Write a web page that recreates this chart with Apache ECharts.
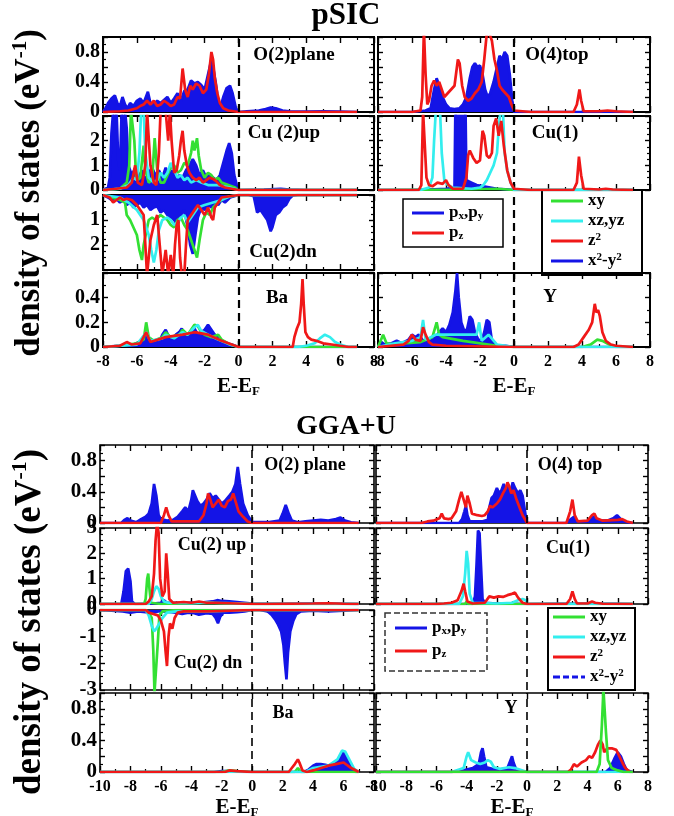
<!DOCTYPE html>
<html><head><meta charset="utf-8">
<script src="https://cdn.jsdelivr.net/npm/echarts@6/dist/echarts.min.js"></script>
<style>html,body{margin:0;padding:0;background:#fff}#c{width:674px;height:816px}</style>
</head><body><div id="c"></div>
<script>
// ---------------- tick labels ----------------
const sicXTicks = [-8,-6,-4,-2,0,2,4,6,8];
const ggaXTicks = [-10,-8,-6,-4,-2,0,2,4,6,8];
const sicO2Ticks = [0,0.4,0.8];
const sicCuUpTicks = [0,1,2];
const sicCuDnTicks = [1,2];
const sicBaTicks = [0,0.2,0.4];
const ggaO2Ticks = [0,0.4,0.8];
const ggaCuUpTicks = [0,1,2,3];
const ggaCuDnTicks = [0,-1,-2,-3];
const ggaBaTicks = [0,0.4,0.8];

// ---------------- pSIC data [E-EF, DOS] ----------------
const sic_O2_pxpy = [[-8,0],[-7.85,0.05],[-7.7,0.12],[-7.5,0.18],[-7.3,0.22],[-7.15,0.12],[-7.0,0.08],[-6.85,0.2],[-6.7,0.1],[-6.55,0.05],[-6.4,0.12],[-6.2,0.08],[-6.0,0.15],[-5.8,0.18],[-5.6,0.12],[-5.35,0.27],[-5.2,0.12],[-5.0,0.1],[-4.8,0.15],[-4.6,0.12],[-4.4,0.16],[-4.2,0.2],[-4.0,0.12],[-3.8,0.18],[-3.6,0.25],[-3.4,0.15],[-3.2,0.28],[-3.0,0.3],[-2.8,0.42],[-2.6,0.38],[-2.4,0.4],[-2.2,0.36],[-2.0,0.3],[-1.85,0.45],[-1.7,0.6],[-1.6,0.7],[-1.5,0.6],[-1.35,0.4],[-1.2,0.15],[-1.05,0.08],[-0.9,0.2],[-0.7,0.32],[-0.5,0.35],[-0.35,0.25],[-0.15,0.05],[0,0],[0.5,0.01],[1.2,0.02],[1.6,0.04],[1.9,0.06],[2.2,0.05],[2.6,0.02],[3.0,0.01],[4,0.005],[5,0.01],[6,0.005],[7,0]];
const sic_O2_pz = [[-8,0],[-7,0.01],[-6.5,0.02],[-6.0,0.05],[-5.8,0.08],[-5.6,0.1],[-5.4,0.15],[-5.2,0.1],[-5.0,0.15],[-4.8,0.08],[-4.6,0.1],[-4.4,0.15],[-4.2,0.12],[-4.0,0.08],[-3.8,0.1],[-3.6,0.2],[-3.45,0.18],[-3.3,0.58],[-3.15,0.3],[-3.0,0.2],[-2.85,0.35],[-2.7,0.3],[-2.5,0.38],[-2.3,0.35],[-2.1,0.25],[-1.9,0.3],[-1.75,0.5],[-1.6,0.8],[-1.5,0.7],[-1.4,0.45],[-1.25,0.25],[-1.1,0.12],[-0.9,0.05],[-0.6,0.02],[0,0],[7,0]];

const sic_Cu2up_x2y2 = [[-8,0],[-7.7,0.1],[-7.6,0.5],[-7.5,2.3],[-7.4,3.2],[-7.2,3.2],[-7.1,1.2],[-7.0,0.8],[-6.9,3.2],[-6.7,3.2],[-6.6,2.5],[-6.5,1.0],[-6.3,0.6],[-6.1,0.9],[-5.9,0.5],[-5.7,0.8],[-5.5,0.4],[-5.3,0.7],[-5.1,0.9],[-4.9,0.6],[-4.7,0.8],[-4.5,0.5],[-4.3,0.9],[-4.1,0.6],[-3.9,0.8],[-3.7,0.4],[-3.5,0.6],[-3.3,0.5],[-3.1,0.8],[-2.9,1.0],[-2.7,1.25],[-2.5,1.0],[-2.3,0.6],[-2.1,0.8],[-1.9,0.5],[-1.7,0.6],[-1.5,0.5],[-1.3,0.4],[-1.1,0.6],[-0.9,1.1],[-0.7,1.6],[-0.55,1.9],[-0.4,1.5],[-0.25,0.6],[-0.1,0.2],[0,0],[1.5,0.02],[2.5,0.05],[3,0.02],[4,0],[7,0]];
const sic_Cu2up_xy = [[-8,0],[-7,0.05],[-6.6,0.3],[-6.45,1.0],[-6.35,3.2],[-6.25,3.2],[-6.15,2.0],[-6.05,0.6],[-5.95,0.4],[-5.8,0.5],[-5.6,1.8],[-5.5,0.8],[-5.3,0.3],[-5.1,0.4],[-4.95,2.1],[-4.8,0.8],[-4.6,0.3],[-4.4,0.3],[-4.2,0.6],[-4.0,0.9],[-3.8,1.0],[-3.6,0.7],[-3.4,0.8],[-3.2,1.1],[-3.0,1.0],[-2.8,1.5],[-2.7,2.0],[-2.6,1.6],[-2.45,2.1],[-2.35,1.4],[-2.2,0.8],[-2.0,0.5],[-1.8,0.7],[-1.6,0.6],[-1.4,0.4],[-1.2,0.5],[-1.0,0.3],[-0.6,0.2],[-0.2,0.1],[0,0],[7,0]];
const sic_Cu2up_xzyz = [[-8,0],[-7,0.05],[-6.5,0.2],[-6.2,0.5],[-6.0,0.4],[-5.85,1.5],[-5.75,3.2],[-5.6,3.2],[-5.5,1.5],[-5.3,0.5],[-5.0,0.3],[-4.8,0.4],[-4.6,0.7],[-4.4,0.5],[-4.2,0.7],[-4.0,1.1],[-3.8,0.8],[-3.6,0.5],[-3.4,0.6],[-3.2,0.4],[-3.0,0.5],[-2.8,0.3],[-2.5,0.4],[-2.2,0.3],[-1.8,0.2],[-1.2,0.2],[-0.5,0.1],[0,0],[7,0]];
const sic_Cu2up_z2 = [[-8,0],[-7.2,0.05],[-6.6,0.1],[-6.3,0.3],[-6.1,1.0],[-5.95,0.3],[-5.7,0.2],[-5.5,1.0],[-5.4,3.2],[-5.3,3.2],[-5.2,1.0],[-5.0,0.3],[-4.85,0.2],[-4.7,1.5],[-4.6,3.2],[-4.3,3.2],[-4.15,2.0],[-4.05,3.2],[-3.95,2.0],[-3.8,0.7],[-3.65,0.8],[-3.5,1.4],[-3.4,2.0],[-3.3,2.4],[-3.2,1.6],[-3.05,1.0],[-2.9,0.7],[-2.7,0.5],[-2.5,0.4],[-2.3,0.5],[-2.1,0.3],[-1.9,0.4],[-1.7,0.5],[-1.5,0.45],[-1.3,0.35],[-1.1,0.2],[-0.8,0.1],[0,0],[7,0]];

const sic_Cu2dn_x2y2 = [[-8,0],[-7.7,0.1],[-7.5,0.2],[-7.2,0.15],[-7.0,0.3],[-6.8,0.2],[-6.6,0.4],[-6.4,0.3],[-6.2,0.5],[-6.0,0.4],[-5.8,0.3],[-5.6,0.5],[-5.4,0.4],[-5.2,0.6],[-5.0,0.5],[-4.8,0.45],[-4.6,0.7],[-4.4,0.6],[-4.2,0.8],[-4.0,0.9],[-3.8,1.0],[-3.6,1.2],[-3.4,0.8],[-3.2,0.6],[-3.0,1.3],[-2.85,2.0],[-2.7,2.35],[-2.55,1.6],[-2.4,0.9],[-2.2,0.5],[-2.0,0.6],[-1.8,0.4],[-1.6,0.5],[-1.4,0.3],[-1.2,0.4],[-1.0,0.2],[-0.8,0.3],[-0.5,0.1],[0,0],[0.6,0],[0.9,0.05],[1.1,0.7],[1.3,0.6],[1.5,0.8],[1.7,1.0],[1.9,1.45],[2.0,1.3],[2.2,0.8],[2.4,0.7],[2.6,0.5],[2.8,0.4],[3.0,0.15],[3.2,0.02],[3.5,0],[7,0]];
const sic_Cu2dn_xy = [[-8,0],[-7.5,0.1],[-7.0,0.2],[-6.7,0.3],[-6.6,0.8],[-6.4,1.0],[-6.2,1.3],[-6.0,1.6],[-5.85,2.2],[-5.7,2.6],[-5.6,2.0],[-5.45,1.5],[-5.3,1.0],[-5.1,0.9],[-4.9,1.0],[-4.6,0.8],[-4.4,0.9],[-4.2,1.0],[-4.0,1.2],[-3.8,1.3],[-3.6,1.0],[-3.4,0.9],[-3.2,1.2],[-3.0,1.4],[-2.8,1.8],[-2.6,2.2],[-2.45,2.5],[-2.3,1.8],[-2.1,1.0],[-1.9,0.7],[-1.7,0.8],[-1.5,0.5],[-1.2,0.3],[-0.8,0.1],[0,0],[7,0]];
const sic_Cu2dn_xzyz = [[-8,0],[-7,0.1],[-6.5,0.3],[-6.0,0.6],[-5.6,1.0],[-5.3,1.6],[-5.15,2.2],[-5.0,2.7],[-4.85,2.2],[-4.7,1.4],[-4.5,1.0],[-4.2,0.9],[-4.0,1.0],[-3.8,1.2],[-3.6,1.1],[-3.4,0.9],[-3.2,0.8],[-3.0,1.1],[-2.8,0.9],[-2.6,0.7],[-2.4,0.5],[-2.0,0.4],[-1.5,0.3],[-1.0,0.2],[-0.5,0.05],[0,0],[7,0]];
const sic_Cu2dn_z2 = [[-8,0],[-7.6,0.1],[-7.4,0.3],[-7.2,0.2],[-7.0,0.1],[-6.8,0.2],[-6.6,0.15],[-6.3,0.2],[-6.0,0.4],[-5.8,0.6],[-5.6,0.8],[-5.5,2.0],[-5.4,3.2],[-5.3,3.2],[-5.2,1.8],[-5.0,1.2],[-4.8,0.8],[-4.65,2.0],[-4.5,3.2],[-4.3,2.2],[-4.15,3.2],[-4.0,2.4],[-3.85,3.2],[-3.75,2.0],[-3.65,1.2],[-3.55,1.0],[-3.45,2.5],[-3.35,3.2],[-3.2,3.2],[-3.1,2.0],[-3.0,1.0],[-2.8,0.8],[-2.6,0.6],[-2.4,0.4],[-2.2,0.6],[-2.0,0.8],[-1.8,0.5],[-1.6,0.9],[-1.5,1.0],[-1.4,0.5],[-1.2,0.3],[-1.0,0.1],[-0.5,0.05],[0,0],[7,0]];

const sic_Ba_x2y2 = [[-8,0],[-7.5,0.005],[-7,0.01],[-6.5,0.01],[-6.2,0.02],[-6.0,0.03],[-5.8,0.04],[-5.6,0.05],[-5.4,0.1],[-5.3,0.05],[-5.1,0.04],[-4.9,0.05],[-4.7,0.03],[-4.5,0.1],[-4.3,0.14],[-4.1,0.08],[-3.9,0.06],[-3.7,0.1],[-3.5,0.12],[-3.35,0.15],[-3.2,0.09],[-3.0,0.08],[-2.8,0.1],[-2.6,0.15],[-2.4,0.1],[-2.2,0.12],[-2.0,0.14],[-1.8,0.18],[-1.6,0.14],[-1.4,0.1],[-1.2,0.08],[-1.0,0.05],[-0.7,0.03],[-0.4,0.02],[0,0],[7,0]];
const sic_Ba_xy = [[-8,0],[-7,0.01],[-6.5,0.02],[-6,0.03],[-5.6,0.06],[-5.45,0.2],[-5.3,0.08],[-5,0.05],[-4.5,0.08],[-4.3,0.12],[-4,0.08],[-3.5,0.1],[-3.3,0.14],[-3,0.1],[-2.8,0.14],[-2.6,0.18],[-2.4,0.17],[-2.2,0.12],[-2,0.1],[-1.6,0.08],[-1.2,0.1],[-1.0,0.06],[-0.5,0.02],[0,0],[7,0]];
const sic_Ba_xzyz = [[-8,0],[-6,0.02],[-5.45,0.12],[-5.2,0.05],[-4.5,0.07],[-4.3,0.1],[-3.8,0.07],[-3.3,0.12],[-3,0.1],[-2.6,0.16],[-2.4,0.18],[-2.2,0.13],[-1.8,0.1],[-1.2,0.06],[-0.5,0.02],[0,0],[3.5,0],[4,0.01],[4.5,0.03],[4.8,0.07],[5.1,0.1],[5.4,0.08],[5.7,0.04],[6,0.02],[6.5,0],[7,0]];
const sic_Ba_z2 = [[-8,0],[-7,0.01],[-6.6,0.04],[-6.3,0.02],[-5.8,0.03],[-5.45,0.12],[-5.2,0.04],[-4.3,0.08],[-3.3,0.1],[-2.6,0.12],[-1.8,0.1],[-1.0,0.05],[0,0],[3.2,0],[3.3,0.08],[3.45,0.15],[3.6,0.2],[3.7,0.35],[3.78,0.55],[3.85,0.35],[3.95,0.12],[4.1,0.08],[4.3,0.06],[4.6,0.05],[5.0,0.03],[5.5,0.02],[6,0.01],[6.5,0],[7,0]];

const sic_O4_pxpy = [[-8,0],[-6,0],[-5.6,0.01],[-5.2,0.02],[-4.9,0.05],[-4.7,0.3],[-4.55,0.45],[-4.4,0.35],[-4.2,0.2],[-4.0,0.1],[-3.8,0.05],[-3.5,0.04],[-3.2,0.05],[-3.0,0.1],[-2.8,0.2],[-2.6,0.45],[-2.45,0.6],[-2.3,0.65],[-2.15,0.6],[-2.0,0.62],[-1.85,0.5],[-1.7,0.3],[-1.55,0.2],[-1.4,0.25],[-1.2,0.4],[-1.0,0.6],[-0.85,0.75],[-0.7,0.7],[-0.55,0.8],[-0.4,0.75],[-0.25,0.5],[-0.1,0.15],[0,0],[7,0]];
const sic_O4_pz = [[-8,0],[-6,0],[-5.5,0.02],[-5.4,0.2],[-5.3,1.1],[-5.2,0.5],[-5.1,0.1],[-5.0,0.15],[-4.85,0.35],[-4.7,0.42],[-4.55,0.35],[-4.4,0.4],[-4.25,0.3],[-4.1,0.2],[-3.9,0.25],[-3.7,0.3],[-3.5,0.35],[-3.3,0.7],[-3.2,0.65],[-3.05,0.35],[-2.9,0.2],[-2.7,0.15],[-2.5,0.18],[-2.3,0.25],[-2.1,0.3],[-1.9,0.4],[-1.75,0.7],[-1.6,1.05],[-1.45,1.05],[-1.3,0.95],[-1.15,0.7],[-1.0,0.55],[-0.85,0.35],[-0.7,0.3],[-0.5,0.25],[-0.3,0.2],[-0.15,0.1],[0,0.02],[1,0],[3.5,0],[3.7,0.1],[3.85,0.3],[3.95,0.15],[4.1,0.01],[5,0.01],[5.5,0.02],[6,0.01],[7,0]];

const sic_Cu1_x2y2 = [[-8,0],[-6,0],[-5,0.02],[-4,0.05],[-3.5,0.1],[-3.45,3.2],[-2.85,3.2],[-2.8,0.4],[-2.5,0.3],[-2.2,0.2],[-1.8,0.15],[-1.4,0.1],[-1.0,0.05],[-0.5,0.03],[0,0],[7,0]];
const sic_Cu1_xy = [[-8,0],[-3,0.02],[-1,0.05],[0,0],[7,0]];
const sic_Cu1_xzyz = [[-8,0],[-5.5,0],[-5.0,0.1],[-4.8,0.5],[-4.7,2.0],[-4.6,3.2],[-4.35,3.2],[-4.25,1.5],[-4.1,0.4],[-3.9,0.2],[-3.6,0.1],[-2.5,0.05],[-2.0,0.1],[-1.8,0.2],[-1.6,0.4],[-1.4,0.7],[-1.2,1.0],[-1.0,1.5],[-0.9,2.5],[-0.8,3.2],[-0.65,3.2],[-0.55,1.5],[-0.4,0.8],[-0.2,0.3],[0,0],[7,0]];
const sic_Cu1_z2 = [[-8,0],[-5.6,0],[-5.45,0.2],[-5.35,3.2],[-5.25,3.2],[-5.15,0.5],[-5.0,0.2],[-4.8,0.15],[-4.5,0.3],[-4.2,0.25],[-4.0,0.4],[-3.85,0.2],[-3.6,0.05],[-3.0,0.05],[-2.8,0.5],[-2.7,1.4],[-2.6,1.6],[-2.4,1.3],[-2.2,1.1],[-2.0,1.2],[-1.85,2.4],[-1.75,2.2],[-1.6,1.4],[-1.45,1.3],[-1.3,1.5],[-1.2,2.6],[-1.05,2.9],[-0.9,2.2],[-0.75,2.8],[-0.6,1.8],[-0.4,0.8],[-0.2,0.3],[0,0.05],[1,0],[3.5,0],[3.7,0.3],[3.82,1.35],[3.95,0.6],[4.1,0.05],[5,0.02],[5.4,0.05],[5.8,0.02],[7,0]];

const sic_Y_x2y2 = [[-8,0],[-7.8,0.04],[-7.6,0.02],[-7.2,0.03],[-6.9,0.05],[-6.6,0.03],[-6.2,0.06],[-6.0,0.1],[-5.8,0.08],[-5.6,0.1],[-5.4,0.06],[-5.2,0.04],[-4.9,0.05],[-4.6,0.08],[-4.4,0.12],[-4.2,0.15],[-4.0,0.12],[-3.8,0.18],[-3.6,0.28],[-3.45,0.45],[-3.35,0.6],[-3.25,0.4],[-3.1,0.2],[-2.9,0.12],[-2.75,0.15],[-2.6,0.25],[-2.45,0.22],[-2.3,0.12],[-2.1,0.06],[-1.9,0.05],[-1.75,0.12],[-1.6,0.22],[-1.45,0.2],[-1.3,0.05],[-1.1,0.01],[-0.5,0.01],[0,0],[7,0]];
const sic_Y_xy = [[-8,0],[-7.7,0.1],[-7.5,0.03],[-7,0.02],[-6.5,0.03],[-5.5,0.04],[-4.8,0.08],[-4.55,0.2],[-4.4,0.1],[-4.2,0.08],[-3,0.05],[-1,0.01],[0,0],[4,0],[4.5,0.02],[4.9,0.06],[5.2,0.05],[5.6,0.02],[6,0],[7,0]];
const sic_Y_xzyz = [[-8,0],[-7,0.03],[-6,0.05],[-5.5,0.08],[-5.35,0.22],[-5.2,0.06],[-4.6,0.1],[-4,0.1],[-3,0.1],[-2.2,0.1],[-2.05,0.2],[-1.9,0.05],[-1.5,0.1],[-1,0.02],[0,0],[7,0]];
const sic_Y_z2 = [[-8,0],[-6.5,0.02],[-6.2,0.05],[-6.0,0.1],[-5.8,0.06],[-5.5,0.05],[-5.35,0.16],[-5.2,0.1],[-5.0,0.04],[-4.8,0.02],[-4,0.01],[0,0],[3.5,0],[3.8,0.02],[4.1,0.08],[4.4,0.14],[4.6,0.2],[4.75,0.35],[4.85,0.28],[4.95,0.3],[5.05,0.25],[5.2,0.12],[5.4,0.05],[5.7,0.02],[6,0.01],[7,0]];

// ---------------- GGA+U data ----------------
const gga_O2_pxpy = [[-10,0],[-8.6,0],[-8.4,0.04],[-8.2,0.06],[-8.0,0.03],[-7.6,0.01],[-7.3,0.05],[-7.0,0.08],[-6.8,0.12],[-6.6,0.25],[-6.45,0.5],[-6.3,0.35],[-6.15,0.1],[-6.0,0.05],[-5.6,0.03],[-5.2,0.04],[-4.9,0.08],[-4.6,0.15],[-4.4,0.2],[-4.2,0.15],[-4.0,0.3],[-3.9,0.42],[-3.75,0.35],[-3.6,0.28],[-3.4,0.22],[-3.2,0.25],[-3.0,0.3],[-2.8,0.38],[-2.6,0.32],[-2.4,0.35],[-2.2,0.3],[-2.0,0.25],[-1.8,0.28],[-1.5,0.35],[-1.3,0.4],[-1.1,0.5],[-0.95,0.72],[-0.8,0.5],[-0.6,0.25],[-0.3,0.1],[0,0.01],[0.5,0.01],[1,0.01],[1.8,0.03],[2.0,0.12],[2.2,0.23],[2.4,0.12],[2.6,0.03],[3,0.01],[3.5,0.02],[4,0.03],[4.5,0.04],[5,0.03],[5.5,0.05],[5.8,0.07],[6.1,0.03],[6.5,0.01],[7,0]];
const gga_O2_pz = [[-10,0],[-6,0],[-5.8,0.1],[-5.65,0.2],[-5.5,0.1],[-5.3,0.02],[-3.5,0.02],[-3.2,0.1],[-3.0,0.25],[-2.9,0.38],[-2.75,0.3],[-2.6,0.2],[-2.4,0.25],[-2.2,0.3],[-2.0,0.22],[-1.8,0.2],[-1.6,0.28],[-1.4,0.3],[-1.25,0.38],[-1.1,0.28],[-0.9,0.15],[-0.6,0.08],[-0.3,0.02],[0,0],[7,0]];

const gga_Cu2up_x2y2 = [[-10,0],[-8.6,0],[-8.45,0.5],[-8.3,1.3],[-8.15,1.4],[-8.0,0.9],[-7.9,0.1],[-7.7,0],[-6.5,0.02],[-6,0.05],[-5.8,0.15],[-5.6,0.05],[-4.5,0.05],[-3.5,0.05],[-2.6,0.1],[-2.3,0.15],[-2.0,0.12],[-1.5,0.1],[-1.0,0.08],[-0.5,0.05],[0,0.02],[2,0.01],[4,0.02],[6,0.01],[7,0]];
const gga_Cu2up_xy = [[-10,0],[-7.1,0],[-7.0,0.2],[-6.9,1.0],[-6.83,1.2],[-6.75,0.6],[-6.65,0.05],[-6,0],[-4,0.03],[-3,0.05],[-2,0.03],[0,0],[7,0]];
const gga_Cu2up_xzyz = [[-10,0],[-6.8,0],[-6.6,0.2],[-6.45,0.5],[-6.3,0.7],[-6.15,0.6],[-6.0,0.3],[-5.8,0.1],[-5.5,0.05],[-4,0.03],[-3,0.06],[-2.5,0.05],[-1,0.03],[0,0],[7,0]];
const gga_Cu2up_z2 = [[-10,0],[-7,0],[-6.8,0.1],[-6.6,0.3],[-6.45,1.2],[-6.35,2.5],[-6.25,3.2],[-6.15,2.8],[-6.05,1.0],[-5.9,0.3],[-5.75,0.5],[-5.65,2.0],[-5.55,1.2],[-5.45,0.2],[-5.2,0.05],[-4.5,0.08],[-4,0.05],[-3.5,0.1],[-3,0.05],[-2.5,0.05],[-1.5,0.03],[0,0],[1,0],[4,0.02],[5,0.03],[6,0.01],[7,0]];

const gga_Cu2dn_x2y2 = [[-10,0],[-8.5,-0.05],[-8,-0.1],[-7.5,-0.05],[-7,-0.08],[-6.5,-0.1],[-6.2,-0.05],[-5.8,-0.05],[-5.3,-0.08],[-5.0,-0.1],[-4.6,-0.15],[-4.2,-0.1],[-3.8,-0.12],[-3.5,-0.18],[-3.0,-0.12],[-2.6,-0.15],[-2.4,-0.3],[-2.25,-0.5],[-2.1,-0.25],[-1.9,-0.1],[-1.5,-0.1],[-1,-0.08],[-0.5,-0.05],[0,0],[0.5,0],[1.0,-0.05],[1.3,-0.2],[1.5,-0.35],[1.7,-0.55],[1.9,-0.8],[2.05,-1.3],[2.15,-2.0],[2.25,-2.6],[2.35,-1.6],[2.5,-0.8],[2.7,-0.4],[2.9,-0.15],[3.2,-0.05],[4,-0.02],[5,-0.05],[6,-0.02],[7,0]];
const gga_Cu2dn_xy = [[-10,0],[-7,0],[-6.8,-0.1],[-6.6,-0.3],[-6.5,-1.5],[-6.42,-3.1],[-6.3,-3.1],[-6.2,-1.2],[-6.1,-0.2],[-5.9,-0.05],[-5,0],[7,0]];
const gga_Cu2dn_xzyz = [[-10,0],[-7,0],[-6.8,-0.2],[-6.6,-0.6],[-6.45,-0.8],[-6.3,-0.7],[-6.1,-0.5],[-5.9,-0.3],[-5.6,-0.1],[-5,-0.05],[-3,-0.05],[0,0],[7,0]];
const gga_Cu2dn_z2 = [[-10,0],[-7,0],[-6.8,-0.1],[-6.5,-0.15],[-6.2,-0.2],[-6.0,-0.4],[-5.8,-0.8],[-5.7,-1.5],[-5.6,-2.1],[-5.5,-1.0],[-5.4,-0.5],[-5.25,-0.7],[-5.1,-0.3],[-4.9,-0.1],[-4.5,-0.05],[-3,-0.05],[0,0],[7,0]];

const gga_Ba_x2y2 = [[-10,0],[-2.5,0],[-2,0.01],[-1.5,0.01],[-1,0.005],[0,0],[3.4,0],[3.7,0.03],[4.0,0.08],[4.2,0.1],[4.5,0.1],[4.8,0.09],[5.0,0.08],[5.3,0.1],[5.6,0.14],[5.85,0.22],[6.0,0.25],[6.2,0.2],[6.4,0.1],[6.6,0.03],[6.8,0],[7,0]];
const gga_Ba_xy = [[-10,0],[-2,0],[-1.5,0.02],[-1,0.01],[0,0],[2.8,0],[3.0,0.05],[3.2,0],[7,0]];
const gga_Ba_xzyz = [[-10,0],[3.5,0],[4,0.05],[5,0.08],[5.6,0.16],[5.9,0.27],[6.1,0.26],[6.4,0.15],[6.7,0.04],[7,0]];
const gga_Ba_z2 = [[-10,0],[-1.8,0],[-1.5,0.02],[-1,0.01],[0,0],[2.4,0],[2.6,0.05],[2.8,0.1],[3.0,0.16],[3.1,0.12],[3.3,0.02],[3.6,0],[4,0.02],[5,0.08],[5.5,0.1],[6,0.12],[6.5,0.05],[7,0]];

const gga_O4_pxpy = [[-10,0],[-4.5,0],[-4.3,0.05],[-4.15,0.15],[-4.05,0.22],[-3.95,0.1],[-3.8,0.02],[-3,0.02],[-2.6,0.04],[-2.5,0.2],[-2.35,0.32],[-2.2,0.35],[-2.0,0.45],[-1.85,0.38],[-1.7,0.42],[-1.55,0.5],[-1.4,0.42],[-1.25,0.48],[-1.1,0.4],[-0.95,0.52],[-0.8,0.45],[-0.6,0.38],[-0.45,0.42],[-0.3,0.35],[-0.1,0.1],[0,0],[2.6,0],[2.9,0.05],[3.1,0.08],[3.3,0.02],[4,0.02],[4.4,0.08],[4.7,0.03],[5.3,0.03],[5.7,0.06],[5.95,0.1],[6.2,0.05],[6.6,0.01],[7,0]];
const gga_O4_pz = [[-10,0],[-7,0],[-6.6,0.02],[-6.2,0.03],[-5.8,0.06],[-5.65,0.12],[-5.5,0.06],[-5.2,0.05],[-5,0.06],[-4.7,0.15],[-4.5,0.3],[-4.35,0.4],[-4.2,0.3],[-4.05,0.2],[-3.95,0.35],[-3.8,0.25],[-3.65,0.12],[-3.3,0.1],[-3,0.09],[-2.8,0.1],[-2.6,0.15],[-2.45,0.22],[-2.3,0.2],[-2.0,0.25],[-1.8,0.3],[-1.6,0.38],[-1.4,0.45],[-1.3,0.52],[-1.2,0.48],[-1.05,0.38],[-0.9,0.42],[-0.7,0.3],[-0.5,0.2],[-0.3,0.1],[0,0],[2.6,0],[2.85,0.15],[3.0,0.3],[3.15,0.1],[3.35,0.02],[4.0,0.03],[4.3,0.1],[4.45,0.12],[4.6,0.06],[5,0.03],[6.0,0.04],[6.3,0.05],[6.6,0.02],[7,0]];

const gga_Cu1_x2y2 = [[-10,0],[-3.6,0],[-3.45,0.3],[-3.35,1.5],[-3.25,2.9],[-3.15,2.8],[-3.05,1.5],[-2.95,0.2],[-2.8,0.05],[-2,0.02],[0,0],[4,0.02],[4.4,0.05],[4.6,0.02],[7,0]];
const gga_Cu1_xy = [[-10,0],[-4.1,0],[-4.0,0.1],[-3.9,0],[7,0]];
const gga_Cu1_xzyz = [[-10,0],[-4.5,0],[-4.25,0.3],[-4.1,1.2],[-4.0,2.1],[-3.9,1.6],[-3.8,0.4],[-3.6,0.05],[-2,0.02],[-1,0.05],[-0.6,0.15],[-0.3,0.2],[-0.1,0.15],[0,0],[7,0]];
const gga_Cu1_z2 = [[-10,0],[-6,0],[-5.5,0.02],[-5,0.05],[-4.6,0.15],[-4.35,0.5],[-4.2,0.8],[-4.1,0.5],[-3.95,0.1],[-3.6,0.02],[-2.8,0.05],[-2.5,0.3],[-2.2,0.25],[-1.9,0.3],[-1.6,0.28],[-1.3,0.35],[-1.0,0.4],[-0.8,0.45],[-0.6,0.25],[-0.3,0.05],[0,0],[2.6,0],[2.85,0.2],[3.0,0.5],[3.15,0.2],[3.3,0.02],[4,0.02],[4.3,0.1],[4.5,0.05],[5,0.01],[7,0]];

const gga_Y_x2y2 = [[-10,0],[-5,0],[-4.2,0.02],[-3.6,0.05],[-3.2,0.1],[-3.05,0.25],[-2.95,0.3],[-2.85,0.2],[-2.7,0.06],[-2.3,0.04],[-1.8,0.03],[-1.3,0.05],[-1.1,0.15],[-1.0,0.2],[-0.9,0.12],[-0.7,0.02],[0,0],[5.2,0],[5.5,0.05],[5.8,0.18],[6.0,0.25],[6.2,0.2],[6.4,0.1],[6.6,0.02],[7,0]];
const gga_Y_xzyz = [[-10,0],[-5,0],[-4.2,0.05],[-4.0,0.2],[-3.9,0.25],[-3.7,0.15],[-3.4,0.12],[-3.1,0.1],[-2.8,0.12],[-2.6,0.15],[-2.4,0.13],[-2.2,0.06],[-1.8,0.04],[-1.2,0.06],[-0.8,0.05],[-0.3,0.02],[0,0],[7,0]];
const gga_Y_z2 = [[-10,0],[2.7,0],[2.9,0.03],[3.1,0.1],[3.3,0.07],[3.6,0.12],[3.9,0.15],[4.1,0.2],[4.3,0.18],[4.5,0.25],[4.7,0.35],[4.85,0.4],[5.0,0.35],[5.1,0.25],[5.3,0.3],[5.6,0.3],[5.9,0.28],[6.1,0.2],[6.3,0.12],[6.5,0.05],[6.8,0],[7,0]];
const gga_Y_xy = [[-10,0],[4.6,0],[4.8,0.1],[4.95,0.6],[5.05,1.05],[5.15,1.05],[5.22,0.5],[5.35,0.15],[5.6,0.05],[6.0,0.02],[6.4,0],[7,0]];

// ---------------- styling / layout ----------------
const COL = {pxpy:'#1414e6', x2y2:'#1414e6', pz:'#f01818', z2:'#f01818', xy:'#33e033', xzyz:'#33eeee'};
const FONT = 'Liberation Serif';
const LEG = {pxpy:'p{sub|x},p{sub|y}', pz:'p{sub|z}', xy:'xy', xzyz:'xz,yz', z2:'z{sup|2}', x2y2:'x{sup|2}-y{sup|2}'};
const ICON_SOLID = 'path://M0,0L32,0L32,3L0,3Z';
const ICON_DASH = 'path://M0,0L7,0L7,3L0,3Z M10,0L16,0L16,3L10,3Z M19,0L25,0L25,3L19,3Z M28,0L32,0L32,3L28,3Z';

const sicCols = [{left:103,width:271},{left:378,width:272}];
const sicRows = [{top:37,height:75},{top:116,height:74},{top:195,height:75},{top:273,height:74}];
const ggaCols = [{left:100,width:274},{left:376,width:272}];
const ggaRows = [{top:445,height:78},{top:528,height:76},{top:610,height:80},{top:693,height:79}];

const panels = [
 {b:'sic',r:0,c:0,y:[0,1,0.2,2],t:sicO2Ticks,lab:'O(2)plane',lx:294,ly:55,s:[['pxpy',sic_O2_pxpy],['pz',sic_O2_pz]]},
 {b:'sic',r:1,c:0,y:[0,3,1,4],t:sicCuUpTicks,lab:'Cu (2)up',lx:284,ly:133,s:[['x2y2',sic_Cu2up_x2y2],['xy',sic_Cu2up_xy],['xzyz',sic_Cu2up_xzyz],['z2',sic_Cu2up_z2]]},
 {b:'sic',r:2,c:0,y:[0,3,1,4],inv:true,t:sicCuDnTicks,lab:'Cu(2)dn',lx:283,ly:252,s:[['x2y2',sic_Cu2dn_x2y2],['xy',sic_Cu2dn_xy],['xzyz',sic_Cu2dn_xzyz],['z2',sic_Cu2dn_z2]]},
 {b:'sic',r:3,c:0,y:[0,0.6,0.2,2],t:sicBaTicks,lab:'Ba',lx:277,ly:298,s:[['x2y2',sic_Ba_x2y2],['xy',sic_Ba_xy],['xzyz',sic_Ba_xzyz],['z2',sic_Ba_z2]]},
 {b:'sic',r:0,c:1,y:[0,1,0.2,2],t:[],lab:'O(4)top',lx:557,ly:55,s:[['pxpy',sic_O4_pxpy],['pz',sic_O4_pz]]},
 {b:'sic',r:1,c:1,y:[0,3,1,4],t:[],lab:'Cu(1)',lx:555,ly:133,s:[['x2y2',sic_Cu1_x2y2],['xy',sic_Cu1_xy],['xzyz',sic_Cu1_xzyz],['z2',sic_Cu1_z2]]},
 {b:'sic',r:3,c:1,y:[0,0.6,0.2,2],t:[],lab:'Y',lx:550,ly:297,s:[['x2y2',sic_Y_x2y2],['xy',sic_Y_xy],['xzyz',sic_Y_xzyz],['z2',sic_Y_z2]]},
 {b:'gga',r:0,c:0,y:[0,1,0.2,2],t:ggaO2Ticks,lab:'O(2) plane',lx:305,ly:465,s:[['pxpy',gga_O2_pxpy],['pz',gga_O2_pz]]},
 {b:'gga',r:1,c:0,y:[0,3,1,4],t:ggaCuUpTicks,lab:'Cu(2) up',lx:212,ly:545,s:[['x2y2',gga_Cu2up_x2y2],['xy',gga_Cu2up_xy],['xzyz',gga_Cu2up_xzyz],['z2',gga_Cu2up_z2]]},
 {b:'gga',r:2,c:0,y:[-3,0,1,4],t:ggaCuDnTicks,lab:'Cu(2) dn',lx:208,ly:663,s:[['x2y2',gga_Cu2dn_x2y2],['xy',gga_Cu2dn_xy],['xzyz',gga_Cu2dn_xzyz],['z2',gga_Cu2dn_z2]]},
 {b:'gga',r:3,c:0,y:[0,1,0.2,2],t:ggaBaTicks,lab:'Ba',lx:283,ly:713,s:[['x2y2',gga_Ba_x2y2],['xy',gga_Ba_xy],['xzyz',gga_Ba_xzyz],['z2',gga_Ba_z2]]},
 {b:'gga',r:0,c:1,y:[0,1,0.2,2],t:[],lab:'O(4) top',lx:570,ly:465,s:[['pxpy',gga_O4_pxpy],['pz',gga_O4_pz]]},
 {b:'gga',r:1,c:1,y:[0,3,1,4],t:[],lab:'Cu(1)',lx:568,ly:548,s:[['x2y2',gga_Cu1_x2y2],['xy',gga_Cu1_xy],['xzyz',gga_Cu1_xzyz],['z2',gga_Cu1_z2]]},
 {b:'gga',r:3,c:1,y:[0,1,0.2,2],t:[],lab:'Y',lx:511,ly:708,s:[['x2y2',gga_Y_x2y2],['xzyz',gga_Y_xzyz],['z2',gga_Y_z2],['xy',gga_Y_xy]]},
 // legend area (no frame, only E_F line)
 {b:'sic',r:2,c:1,empty:true},
 {b:'gga',r:2,c:1,empty:true}
];

const grids=[], xAxes=[], yAxes=[], series=[], graphics=[];
const near = (arr,v)=>arr.some(t=>Math.abs(t-v)<1e-6);
const fmt = v => String(Number(v.toFixed(2)));
panels.forEach((p,i)=>{
  const cols = p.b==='sic'?sicCols:ggaCols, rows = p.b==='sic'?sicRows:ggaRows;
  const xr = p.b==='sic'?[-8,8]:[-10,8];
  const xt = p.b==='sic'?sicXTicks:ggaXTicks;
  const bw = p.b==='sic'?2:1.6;
  grids.push({left:cols[p.c].left, top:rows[p.r].top, width:cols[p.c].width, height:rows[p.r].height,
    show:!p.empty, borderColor:'#000', borderWidth:bw, backgroundColor:'transparent', outerBoundsMode:'none', containLabel:false});
  const tick = {show:!p.empty, inside:true, length:6, lineStyle:{color:'#000', width:1.4}};
  const minor = (n)=>({show:!p.empty, splitNumber:n, length:3, lineStyle:{color:'#000', width:1.2}});
  const bottom = p.r===3;
  const xBase = {type:'value', gridIndex:i, min:xr[0], max:xr[1], interval:2, show:!p.empty,
    axisLine:{show:false, onZero:false}, splitLine:{show:false}, axisTick:tick, minorTick:minor(2)};
  xAxes.push(Object.assign({}, xBase, {position:'bottom',
    axisLabel:{show:bottom, showMinLabel:true, showMaxLabel:true, margin:7, color:'#000', fontFamily:FONT, fontWeight:'bold', fontSize:16,
      formatter:v=>near(xt,v)?fmt(v):''},
    name: bottom?'{a|E-E}{b|F}':'', nameLocation:'middle', nameGap:p.b==='sic'?29:25,
    nameTextStyle:{rich:{a:{fontFamily:FONT,fontWeight:'bold',fontSize:21,lineHeight:22,color:'#000'},
                         b:{fontFamily:FONT,fontWeight:'bold',fontSize:13,lineHeight:12,verticalAlign:'bottom',color:'#000'}}}}));
  xAxes.push(Object.assign({}, xBase, {position:'top', axisLabel:{show:false}}));
  if (!p.empty) {
    const yBase = {type:'value', gridIndex:i, min:p.y[0], max:p.y[1], interval:p.y[2], inverse:!!p.inv,
      axisLine:{show:false, onZero:false}, splitLine:{show:false}, axisTick:Object.assign({},tick,{length:5}), minorTick:minor(p.y[3])};
    yAxes.push(Object.assign({}, yBase, {position:'left',
      axisLabel:{show:p.c===0, showMinLabel:true, showMaxLabel:true, margin:3, color:'#000', fontFamily:FONT, fontWeight:'bold', fontSize:p.b==='sic'?20:21,
        formatter:v=>near(p.t,v)?fmt(v):''}}));
    yAxes.push(Object.assign({}, yBase, {position:'right', axisLabel:{show:false}}));
  } else {
    yAxes.push({type:'value', gridIndex:i, min:0, max:1, show:false});
    yAxes.push({type:'value', gridIndex:i, min:0, max:1, show:false});
  }
  const mk = {silent:true, symbol:'none', label:{show:false}, animation:false,
    lineStyle:{color:'#000', type:[8,5], width:p.b==='sic'?2.2:1.6}, data:[{xAxis:0}]};
  if (p.empty) {
    series.push({type:'line', name:'ef', xAxisIndex:2*i, yAxisIndex:2*i, data:[], markLine:mk});
    return;
  }
  p.s.forEach((s,k)=>{
    const key=s[0];
    const o = {type:'line', name:p.b==='sic'?key:key+'_g', xAxisIndex:2*i, yAxisIndex:2*i, data:s[1],
      symbol:'none', showSymbol:false, smooth:false, clip:true, z:2+k,
      lineStyle:{color:COL[key], width:2.7}, itemStyle:{color:COL[key]}};
    if (key==='pxpy'||key==='x2y2') o.areaStyle={color:COL[key], opacity:1};
    if (k===0) o.markLine = mk;
    series.push(o);
  });
  graphics.push({type:'text', x:p.lx, y:p.ly, z:100, style:{text:p.lab, fill:'#000',
    font:'bold '+(p.b==='sic'?19:18)+'px "'+FONT+'"', align:'center', verticalAlign:'middle', textAlign:'center', textVerticalAlign:'middle'}});
});

// titles and y-axis titles
const yRich = (fs)=>({a:{fontFamily:FONT,fontWeight:'bold',fontSize:fs,lineHeight:fs+4,fill:'#000'},
                      s:{fontFamily:FONT,fontWeight:'bold',fontSize:Math.round(fs*0.6),lineHeight:Math.round(fs*0.6),verticalAlign:'top',fill:'#000'}});
graphics.push(
  {type:'text', x:346, y:16, style:{text:'pSIC', fill:'#000', font:'bold 31px "'+FONT+'"', align:'center', verticalAlign:'middle', textAlign:'center', textVerticalAlign:'middle'}},
  {type:'text', x:346, y:427, style:{text:'GGA+U', fill:'#000', font:'bold 28px "'+FONT+'"', align:'center', verticalAlign:'middle', textAlign:'center', textVerticalAlign:'middle'}},
  {type:'text', x:30, y:193, rotation:Math.PI/2, style:{text:'{a|density of states (eV}{s|-1}{a|)}', rich:yRich(35), align:'center', verticalAlign:'middle', textAlign:'center', textVerticalAlign:'middle'}},
  {type:'text', x:30, y:622, rotation:Math.PI/2, style:{text:'{a|density of states (eV}{s|-1}{a|)}', rich:yRich(37), align:'center', verticalAlign:'middle', textAlign:'center', textVerticalAlign:'middle'}},
  // legend frames
  {type:'rect', shape:{x:403,y:199,width:100,height:48}, style:{fill:'#fff', stroke:'#000', lineWidth:1.5}, z:-1},
  {type:'rect', shape:{x:542,y:190,width:100,height:85}, style:{fill:'#fff', stroke:'#000', lineWidth:2}, z:-1},
  {type:'rect', shape:{x:385,y:613,width:102,height:58}, style:{fill:'#fff', stroke:'#333', lineWidth:1.5, lineDash:[6,3]}, z:-1},
  {type:'rect', shape:{x:548,y:608,width:87,height:82}, style:{fill:'#fff', stroke:'#000', lineWidth:2}, z:-1}
);

const legRich = {sub:{fontFamily:FONT,fontWeight:'bold',fontSize:11,lineHeight:11,verticalAlign:'bottom',color:'#000'},
                 sup:{fontFamily:FONT,fontWeight:'bold',fontSize:11,lineHeight:11,verticalAlign:'top',color:'#000'}};
const legBase = {orient:'vertical', selectedMode:false, itemWidth:32, itemHeight:3, icon:ICON_SOLID, padding:0,
  textStyle:{fontFamily:FONT, fontWeight:'bold', fontSize:17, lineHeight:18, color:'#000', rich:legRich},
  formatter:n=>LEG[n.replace('_g','')]};
const legends = [
  Object.assign({}, legBase, {data:['pxpy','pz'], left:412, top:204, itemGap:2}),
  Object.assign({}, legBase, {data:['xy','xzyz','z2','x2y2'], left:551, top:192, itemGap:2}),
  Object.assign({}, legBase, {data:['pxpy_g','pz_g'], left:395, top:619, itemGap:5}),
  Object.assign({}, legBase, {data:['xy_g','xzyz_g','z2_g',{name:'x2y2_g', icon:ICON_DASH}], left:553, top:608, itemGap:2})
];

const chart = echarts.init(document.getElementById('c'), null, {renderer:'canvas'});
chart.setOption({animation:false, backgroundColor:'#fff', grid:grids, xAxis:xAxes, yAxis:yAxes, series:series, legend:legends, graphic:graphics});
</script></body></html>
